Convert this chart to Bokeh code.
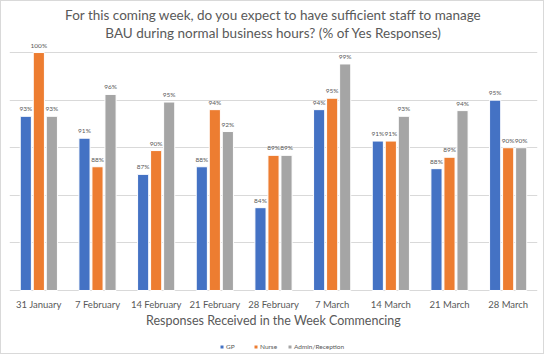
from bokeh.plotting import figure
from bokeh.models import ColumnDataSource, FactorRange, Legend, LegendItem, FixedTicker, Title
from bokeh.transform import dodge
from bokeh.core.properties import value
from bokeh.embed import file_html
from bokeh.resources import INLINE

weeks = ["31 January", "7 February", "14 February", "21 February", "28 February",
         "7 March", "14 March", "21 March", "28 March"]
gp = [93.3, 91.0, 87.2, 88.0, 83.7, 94.0, 90.7, 87.8, 95.0]
nurse = [100.0, 88.0, 89.7, 94.0, 89.2, 95.2, 90.7, 89.0, 90.0]
admin = [93.3, 95.6, 94.8, 91.7, 89.2, 98.8, 93.3, 93.9, 90.0]
series_names = ["GP", "Nurse", "Admin/Reception"]
colors = ["#4472C4", "#ED7D31", "#A5A5A5"]
y_ticks = [75, 80, 85, 90, 95, 100]
x_title = "Responses Received in the Week Commencing"

FONT = "Lato"
TXT = "#595959"
BASE = 75

src = ColumnDataSource(dict(
    week=weeks, gp=gp, nurse=nurse, admin=admin,
    base=[BASE] * len(weeks),
    gp_l=[f"{v:.0f}%" for v in gp],
    nurse_l=[f"{v:.0f}%" for v in nurse],
    admin_l=[f"{v:.0f}%" for v in admin],
))

p = figure(frame_width=528, frame_height=312, x_range=FactorRange(*weeks, range_padding=0),
           y_range=(68.38, 101.16), output_backend="svg", toolbar_location=None,
           min_border_left=8, min_border_right=6, min_border_top=40, min_border_bottom=0)
p.styles = {"border": "1px solid #D9D9D9"}

p.add_layout(Title(text="BAU during normal business hours? (% of Yes Responses)", align="center",
                   text_font=FONT, text_font_size="13.5px", text_color=TXT,
                   text_font_style="normal", standoff=1), "above")
p.add_layout(Title(text="For this coming week, do you expect to have sufficient staff to manage", align="center",
                   text_font=FONT, text_font_size="13.5px", text_color=TXT,
                   text_font_style="normal", standoff=0), "above")

offs = [-0.222, 0.0, 0.222]
keys = ["gp", "nurse", "admin"]
items = []
for k, off, c, name in zip(keys, offs, colors, series_names):
    r = p.vbar(x=dodge("week", off, range=p.x_range), top=k, bottom=BASE, width=0.19,
               source=src, fill_color=c, line_color="white", line_width=1)
    p.text(x=dodge("week", off, range=p.x_range), y=k, text=k + "_l", source=src,
           text_font=value(FONT), text_font_size="6.5px", text_color=TXT,
           text_align="center", text_baseline="bottom", y_offset=-4)
    items.append(LegendItem(label=name, renderers=[r]))

# category labels under the baseline
p.text(x="week", y="base", text="week", source=src, text_font=value(FONT),
       text_font_size="9.5px", text_color=TXT, text_align="center",
       text_baseline="middle", y_offset=14)
# axis title
p.text(x=[weeks[len(weeks) // 2]], y=[BASE], text=[x_title], text_font=value(FONT),
       text_font_size="12.5px", text_color=TXT, text_align="center",
       text_baseline="middle", y_offset=30)

p.xaxis.visible = False
p.yaxis.visible = False
p.ygrid.ticker = FixedTicker(ticks=y_ticks)
p.ygrid.grid_line_color = "#D9D9D9"
p.xgrid.grid_line_color = None
p.outline_line_color = None

legend = Legend(items=items, orientation="horizontal", location=(210, 3),
                label_text_font=FONT, label_text_font_size="6.5px", label_text_color=TXT,
                glyph_width=5, glyph_height=5, label_standoff=2, spacing=7,
                padding=1, margin=0, border_line_color=None, background_fill_alpha=0,
                label_height=8)
p.add_layout(legend, "center")

open("out.html", "w").write(file_html(p, INLINE))
